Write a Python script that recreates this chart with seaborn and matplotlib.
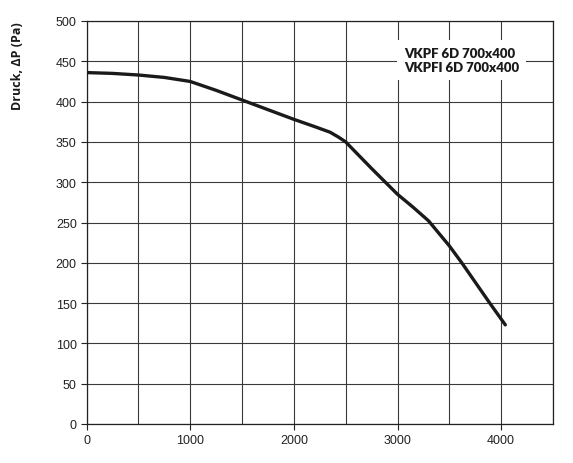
import matplotlib
matplotlib.use("Agg")
import matplotlib.pyplot as plt
import seaborn as sns
import pandas as pd
from matplotlib.ticker import MultipleLocator

# Data
airflow = [0, 250, 500, 750, 1000, 1250, 1500, 1750, 2000, 2200, 2350, 2430, 2500, 2750, 3000, 3150, 3300, 3500, 3620, 3890, 4040]
pressure = [436, 435, 433, 430, 425, 414, 402, 390, 378, 369, 362, 356, 350, 317, 285, 269, 252, 221, 200, 150, 123]
legend_lines = ["VKPF 6D 700x400", "VKPFI 6D 700x400"]
y_label = "Druck, \u0394P (Pa)"
x_ticks = [0, 1000, 2000, 3000, 4000]
y_ticks = [0, 50, 100, 150, 200, 250, 300, 350, 400, 450, 500]

df = pd.DataFrame({"airflow": airflow, "pressure": pressure})

sns.set_theme(style="white")
plt.rcParams["font.family"] = ["Liberation Sans", "DejaVu Sans"]

fig = plt.figure(figsize=(5.73, 4.64), dpi=100)
ax = fig.add_axes([86.5 / 573, 1 - 425 / 464, (553 - 86.5) / 573, (425 - 22) / 464])

ax.set_xlim(0, 4500)
ax.set_ylim(0, 500)
ax.set_xticks(x_ticks)
ax.xaxis.set_minor_locator(MultipleLocator(500))
ax.set_yticks(y_ticks)
ax.grid(True, which="both", color="#3a3a3a", linewidth=0.8)
ax.set_axisbelow(True)

sns.lineplot(data=df, x="airflow", y="pressure", ax=ax, color="#1a1a1a",
             linewidth=2.4, zorder=5)
ax.set_xlabel("")
ax.set_ylabel("")

for s in ax.spines.values():
    s.set_color("#222222")
    s.set_linewidth(0.9)

ax.tick_params(axis="both", which="major", direction="out", length=4, width=0.8,
               color="#222222", labelsize=9, labelcolor="#222222", pad=3,
               left=True, bottom=True)
ax.tick_params(axis="x", which="minor", length=0)

ax.text(3615, 452, "\n".join(legend_lines), ha="center", va="center",
        multialignment="left", fontsize=9.5, fontweight="heavy",
        family=["Lato", "DejaVu Sans"], color="#1a1a1a", linespacing=1.2,
        bbox=dict(facecolor="white", edgecolor="none", pad=5), zorder=6)

fig.text(18 / 573, 1 - 66 / 464, y_label, rotation=90, ha="center", va="center",
         fontsize=9, fontweight="bold", family=["Open Sans", "DejaVu Sans"],
         color="#1a1a1a")

fig.savefig("out.png", dpi=100, facecolor="white")
